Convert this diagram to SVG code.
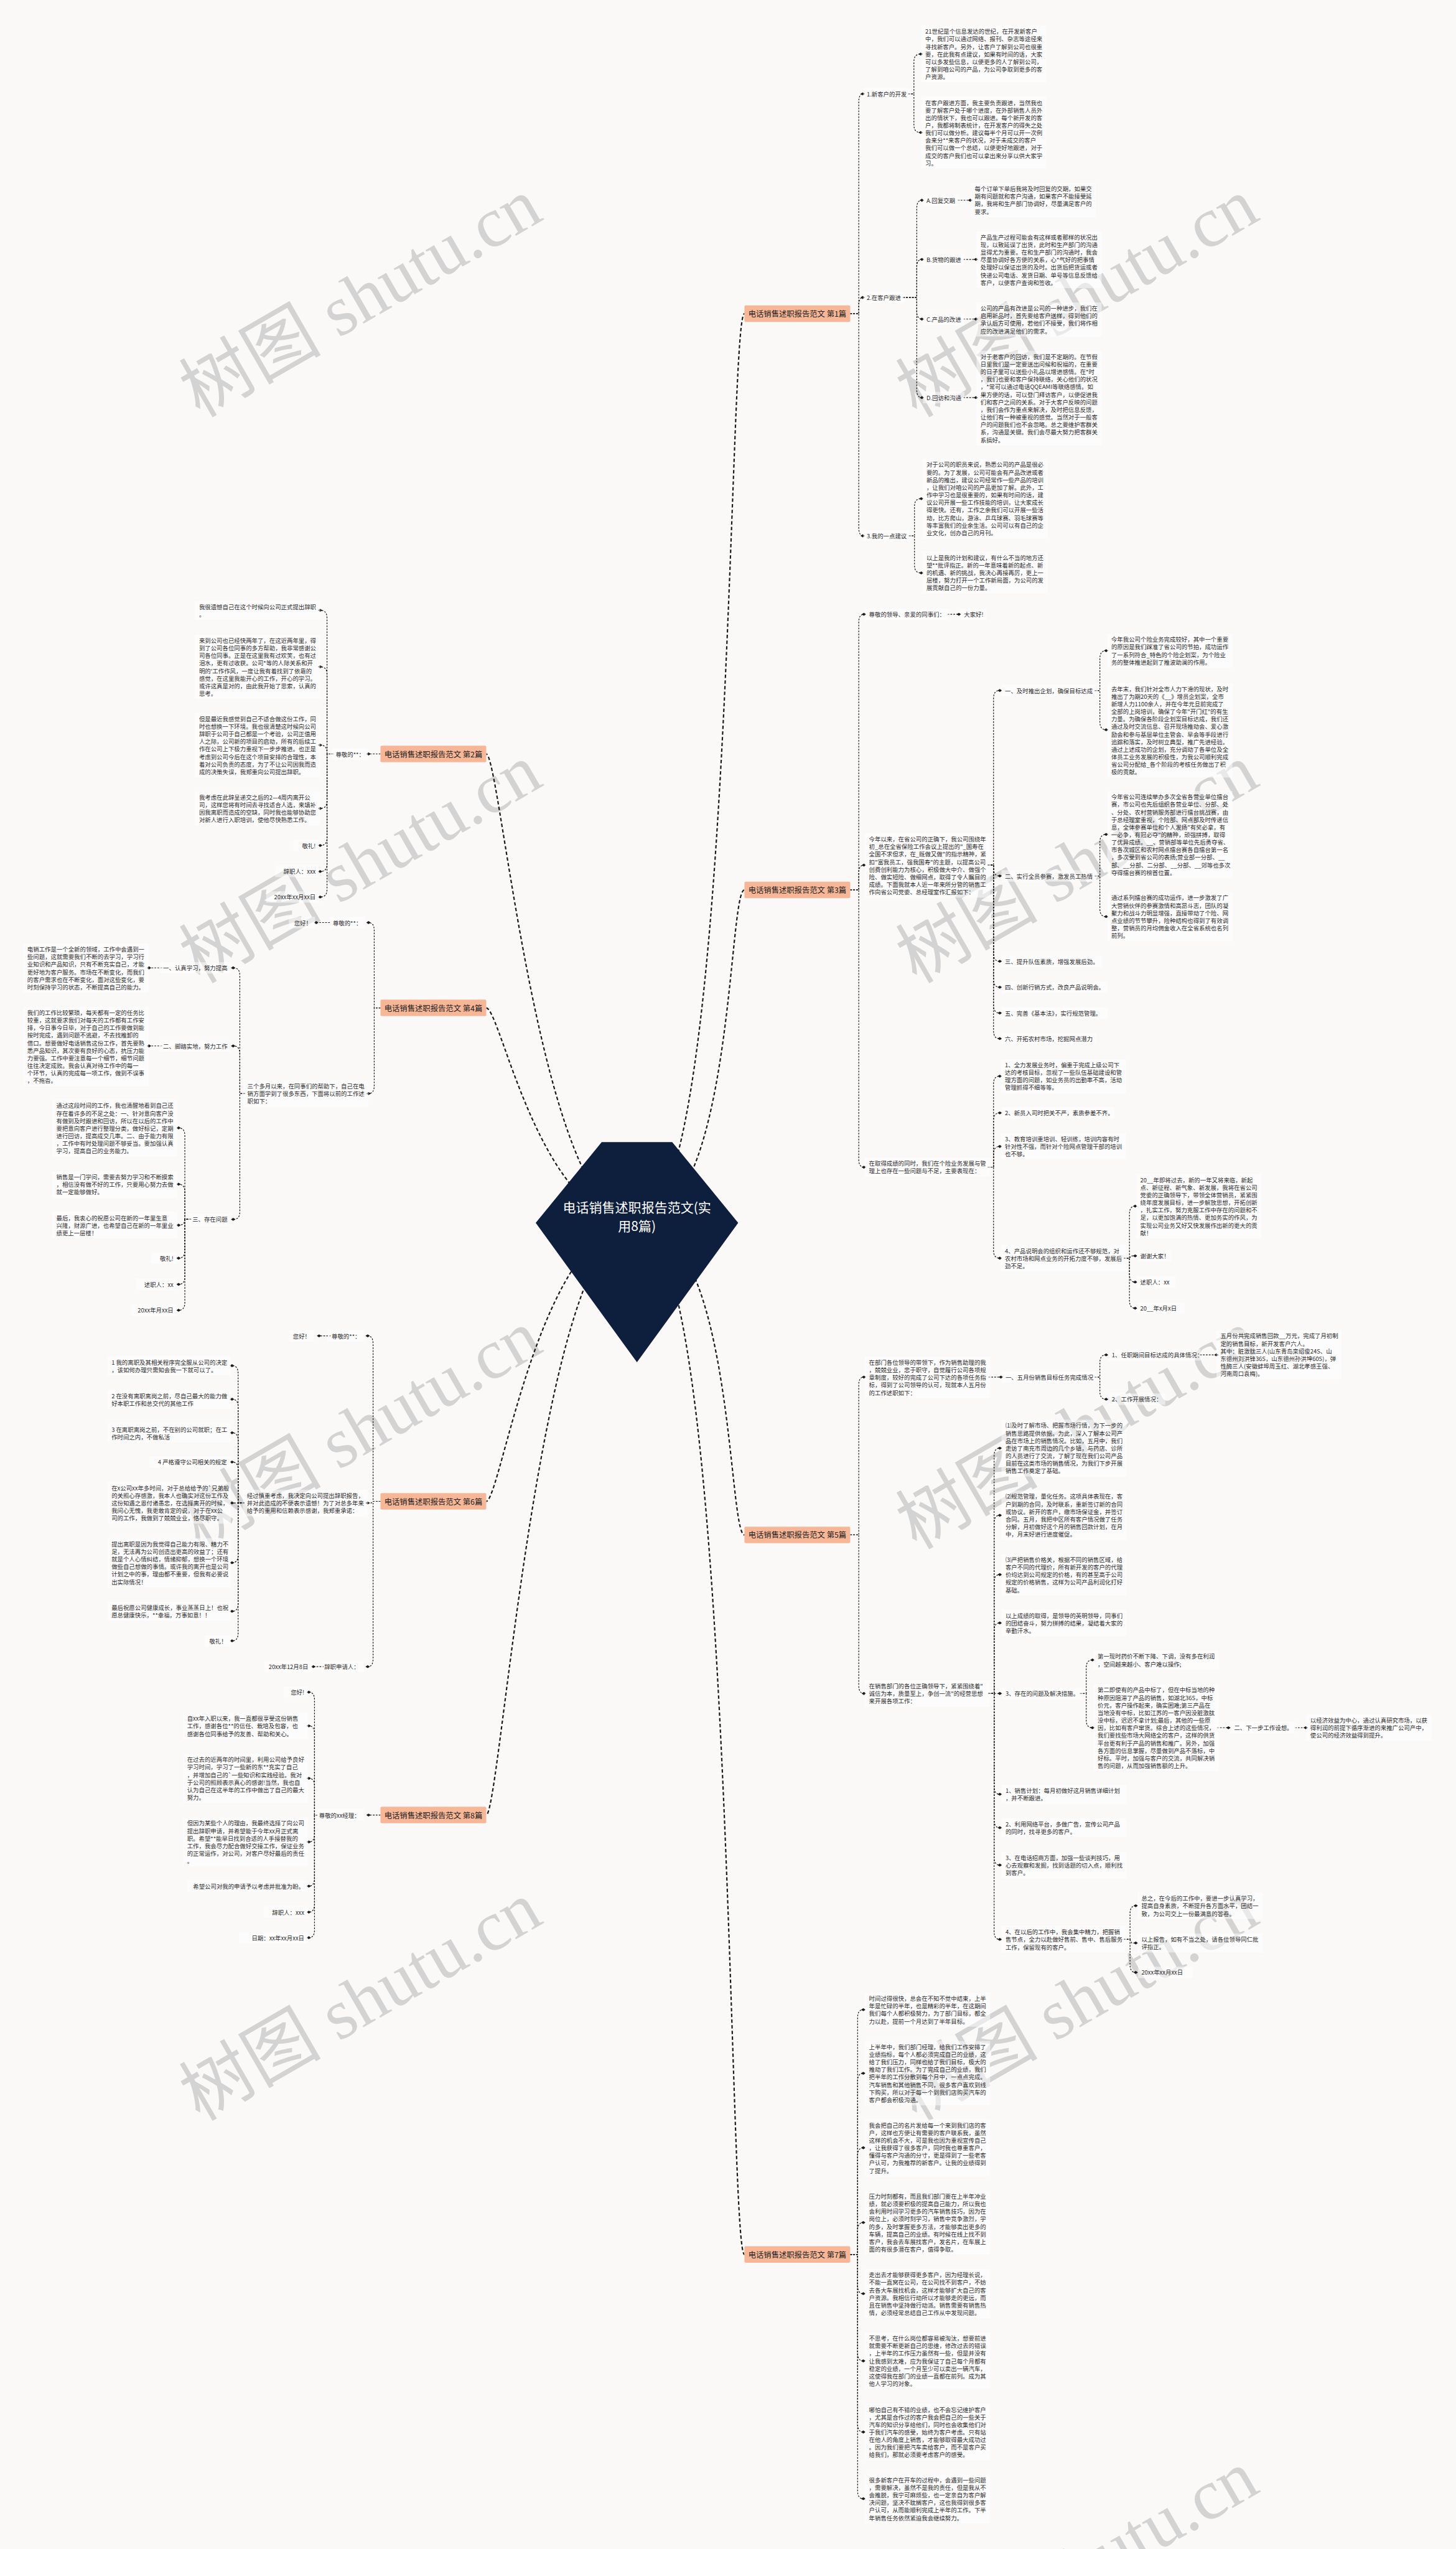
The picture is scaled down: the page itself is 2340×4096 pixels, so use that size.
<svg xmlns="http://www.w3.org/2000/svg" width="2340" height="4096" viewBox="0 0 2340 4096">
<defs>
<style>
.bg{fill:#fbf9f8}
.t{font-family:"Noto Sans CJK SC","Noto Sans",sans-serif;font-size:10.3px;fill:#2b2b2b;dominant-baseline:central}
.e{text-anchor:end}
.nb{fill:#ffffff;fill-opacity:.5}
.c{fill:none;stroke:#1b1b1b;stroke-width:1.3;stroke-dasharray:3 2.2;marker-end:url(#dm)}
.mc{fill:none;stroke:#1b1b1b;stroke-width:2.4;stroke-dasharray:6 4}
.bb{fill:#f7b796}
.bt{font-family:"Noto Sans CJK SC",sans-serif;font-size:13.5px;fill:#222;dominant-baseline:central;text-anchor:middle}
.root{fill:#0e1f3e}
.rt{font-family:"Noto Sans CJK SC",sans-serif;font-size:23px;fill:#fff;text-anchor:middle;dominant-baseline:central}
.wm{font-family:"Liberation Serif","Noto Sans CJK SC",serif;font-size:125px;fill:#d3d3d3;text-anchor:middle}
</style>
<marker id="dm" viewBox="-5 -4 10 8" markerWidth="9" markerHeight="7" orient="auto" markerUnits="userSpaceOnUse"><path d="M-4.5,0 L0,-3 L4.5,0 L0,3 Z" fill="#1b1b1b"/></marker>
</defs>
<rect class="bg" width="2340" height="4096"/>
<g transform="scale(0.914)">
<g id="watermarks">
<text class="wm" transform="translate(655 560) rotate(-30)">树图 shutu.cn</text>
<text class="wm" transform="translate(1915 560) rotate(-30)">树图 shutu.cn</text>
<text class="wm" transform="translate(655 1555) rotate(-30)">树图 shutu.cn</text>
<text class="wm" transform="translate(1915 1555) rotate(-30)">树图 shutu.cn</text>
<text class="wm" transform="translate(655 2550) rotate(-30)">树图 shutu.cn</text>
<text class="wm" transform="translate(1915 2550) rotate(-30)">树图 shutu.cn</text>
<text class="wm" transform="translate(655 3555) rotate(-30)">树图 shutu.cn</text>
<text class="wm" transform="translate(1915 3555) rotate(-30)">树图 shutu.cn</text>
<text class="wm" transform="translate(1915 4555) rotate(-30)">树图 shutu.cn</text>
</g>
<g id="connectors">
<path class="mc" d="M1120 2150 C1290 2150 1280 551.5 1309 551.5"/>
<path class="mc" d="M1120 2150 C1290 2150 1280 1564.5 1309 1564.5"/>
<path class="mc" d="M1120 2150 C1290 2150 1280 2698.5 1309 2698.5"/>
<path class="mc" d="M1120 2150 C1290 2150 1280 3963.5 1309 3963.5"/>
<path class="mc" d="M1120 2150 C950 2150 880 1325.5 855 1325.5"/>
<path class="mc" d="M1120 2150 C950 2150 880 1772 855 1772"/>
<path class="mc" d="M1120 2150 C950 2150 880 2639.5 855 2639.5"/>
<path class="mc" d="M1120 2150 C950 2150 880 3191 855 3191"/>
<path class="c" d="M1495 551.5 H1510 V179 C1510 170 1513 165 1517 165"/>
<path class="c" d="M1495 551.5 H1510 V537 C1510 528 1513 523 1517 523"/>
<path class="c" d="M1495 551.5 H1510 V928 C1510 937 1513 942 1517 942"/>
<path class="c" d="M1597 165 H1607 V109 C1607 100 1610 95 1619 95"/>
<path class="c" d="M1597 165 H1607 V219 C1607 228 1610 233 1619 233"/>
<path class="c" d="M1588 523 H1612 V366 C1612 357 1615 352 1621 352"/>
<path class="c" d="M1588 523 H1612 V470 C1612 461 1615 456 1621 456"/>
<path class="c" d="M1588 523 H1612 V547 C1612 556 1615 561 1621 561"/>
<path class="c" d="M1588 523 H1612 V685 C1612 694 1615 699 1621 699"/>
<path class="c" d="M1684 352 H1706"/>
<path class="c" d="M1694 456 H1716"/>
<path class="c" d="M1694 561 H1716"/>
<path class="c" d="M1694 699 H1716"/>
<path class="c" d="M1598 942 H1608 V890.7 C1608 881.7 1611 876.7 1620 876.7"/>
<path class="c" d="M1598 942 H1608 V993.3 C1608 1002.3 1611 1007.3 1620 1007.3"/>
<path class="c" d="M1495 1564.5 H1510 V1094 C1510 1085 1513 1080 1519 1080"/>
<path class="c" d="M1495 1564.5 H1510 V1535 C1510 1526 1513 1521 1519 1521"/>
<path class="c" d="M1495 1564.5 H1510 V2038 C1510 2047 1513 2052 1519 2052"/>
<path class="c" d="M1666 1080 H1686"/>
<path class="c" d="M1737 1521 H1747 V1228 C1747 1219 1750 1214 1758 1214"/>
<path class="c" d="M1737 1521 H1747 V1526 C1747 1535 1750 1540 1758 1540"/>
<path class="c" d="M1737 1521 H1747 V1676 C1747 1685 1750 1690 1758 1690"/>
<path class="c" d="M1737 1521 H1747 V1721.6 C1747 1730.6 1750 1735.6 1758 1735.6"/>
<path class="c" d="M1737 1521 H1747 V1767 C1747 1776 1750 1781 1758 1781"/>
<path class="c" d="M1737 1521 H1747 V1812 C1747 1821 1750 1826 1758 1826"/>
<path class="c" d="M1925 1214 H1934 V1158 C1934 1149 1937 1144 1945 1144"/>
<path class="c" d="M1925 1214 H1934 V1269 C1934 1278 1937 1283 1945 1283"/>
<path class="c" d="M1925 1540 H1934 V1481 C1934 1472 1937 1467 1945 1467"/>
<path class="c" d="M1925 1540 H1934 V1597.5 C1934 1606.5 1937 1611.5 1945 1611.5"/>
<path class="c" d="M1737 2052 H1747 V1906 C1747 1897 1750 1892 1758 1892"/>
<path class="c" d="M1737 2052 H1747 V1970.6 C1747 1961.6 1750 1956.6 1758 1956.6"/>
<path class="c" d="M1737 2052 H1747 V2029.6 C1747 2020.6 1750 2015.6 1758 2015.6"/>
<path class="c" d="M1737 2052 H1747 V2198 C1747 2207 1750 2212 1758 2212"/>
<path class="c" d="M1976 2212 H1986 V2134.5 C1986 2125.5 1989 2120.5 1996 2120.5"/>
<path class="c" d="M1976 2212 H1986 L1989 2208 H1996"/>
<path class="c" d="M1976 2212 H1986 V2240 C1986 2249 1989 2254 1996 2254"/>
<path class="c" d="M1976 2212 H1986 V2286 C1986 2295 1989 2300 1996 2300"/>
<path class="c" d="M1495 2698.5 H1510 V2435 C1510 2426 1513 2421 1519 2421"/>
<path class="c" d="M1495 2698.5 H1510 V2963.3 C1510 2972.3 1513 2977.3 1519 2977.3"/>
<path class="c" d="M1738 2421 H1760"/>
<path class="c" d="M1925 2421 H1934 V2396 C1934 2387 1937 2382 1945 2382"/>
<path class="c" d="M1925 2421 H1934 V2446 C1934 2455 1937 2460 1945 2460"/>
<path class="c" d="M2110 2382 H2139"/>
<path class="c" d="M1738 2977.3 H1748 V2560 C1748 2551 1751 2546 1758 2546"/>
<path class="c" d="M1738 2977.3 H1748 V2678 C1748 2669 1751 2664 1758 2664"/>
<path class="c" d="M1738 2977.3 H1748 V2782.3 C1748 2773.3 1751 2768.3 1758 2768.3"/>
<path class="c" d="M1738 2977.3 H1748 V2867.3 C1748 2858.3 1751 2853.3 1758 2853.3"/>
<path class="c" d="M1738 2977.3 H1758"/>
<path class="c" d="M1738 2977.3 H1748 V3140.5 C1748 3149.5 1751 3154.5 1758 3154.5"/>
<path class="c" d="M1738 2977.3 H1748 V3199.3 C1748 3208.3 1751 3213.3 1758 3213.3"/>
<path class="c" d="M1738 2977.3 H1748 V3265 C1748 3274 1751 3279 1758 3279"/>
<path class="c" d="M1738 2977.3 H1748 V3395.7 C1748 3404.7 1751 3409.7 1758 3409.7"/>
<path class="c" d="M1899 2977.3 H1910 V2932.4 C1910 2923.4 1913 2918.4 1921 2918.4"/>
<path class="c" d="M1899 2977.3 H1910 V3023.5 C1910 3032.5 1913 3037.5 1921 3037.5"/>
<path class="c" d="M2140 3037.5 H2160"/>
<path class="c" d="M2277 3037.5 H2296"/>
<path class="c" d="M1976 3409.7 H1987 V3364.5 C1987 3355.5 1990 3350.5 1997 3350.5"/>
<path class="c" d="M1976 3409.7 H1987 L1990 3416 H1997"/>
<path class="c" d="M1976 3409.7 H1987 V3453.7 C1987 3462.7 1990 3467.7 1997 3467.7"/>
<path class="c" d="M1495 3963.5 H1508 V3547.3 C1508 3538.3 1511 3533.3 1518 3533.3"/>
<path class="c" d="M1495 3963.5 H1508 V3659 C1508 3650 1511 3645 1518 3645"/>
<path class="c" d="M1495 3963.5 H1508 V3790 C1508 3781 1511 3776 1518 3776"/>
<path class="c" d="M1495 3963.5 H1508 V3921.5 C1508 3912.5 1511 3907.5 1518 3907.5"/>
<path class="c" d="M1495 3963.5 H1508 V4018.5 C1508 4027.5 1511 4032.5 1518 4032.5"/>
<path class="c" d="M1495 3963.5 H1508 V4136.7 C1508 4145.7 1511 4150.7 1518 4150.7"/>
<path class="c" d="M1495 3963.5 H1508 V4261.7 C1508 4270.7 1511 4275.7 1518 4275.7"/>
<path class="c" d="M1495 3963.5 H1508 V4379 C1508 4388 1511 4393 1518 4393"/>
<path class="c" d="M669 1325.5 H648"/>
<path class="c" d="M586 1325.5 H575 V1087 C575 1078 572 1073 563 1073"/>
<path class="c" d="M586 1325.5 H575 V1186.3 C575 1177.3 572 1172.3 563 1172.3"/>
<path class="c" d="M586 1325.5 H575 V1324 C575 1315 572 1310 563 1310"/>
<path class="c" d="M586 1325.5 H575 V1407.3 C575 1416.3 572 1421.3 563 1421.3"/>
<path class="c" d="M586 1325.5 H575 V1472.4 C575 1481.4 572 1486.4 563 1486.4"/>
<path class="c" d="M586 1325.5 H575 V1518.2 C575 1527.2 572 1532.2 563 1532.2"/>
<path class="c" d="M586 1325.5 H575 V1563 C575 1572 572 1577 563 1577"/>
<path class="c" d="M669 1772 H658 V1636 C658 1627 655 1622 648 1622"/>
<path class="c" d="M669 1772 H658 V1908.6 C658 1917.6 655 1922.6 648 1922.6"/>
<path class="c" d="M431 1922.6 H421.7 V1715.6 C421.7 1706.6 418.7 1701.6 410 1701.6"/>
<path class="c" d="M431 1922.6 H421.7 V1852.9 C421.7 1843.9 418.7 1838.9 410 1838.9"/>
<path class="c" d="M431 1922.6 H421.7 V2129.8 C421.7 2138.8 418.7 2143.8 410 2143.8"/>
<path class="c" d="M285 1701.6 H262"/>
<path class="c" d="M285 1838.9 H262"/>
<path class="c" d="M336 2143.8 H325 V1997 C325 1988 322 1983 314 1983"/>
<path class="c" d="M336 2143.8 H325 V2096 C325 2087 322 2082 314 2082"/>
<path class="c" d="M336 2143.8 H325 C325 2150 322 2154 314 2154"/>
<path class="c" d="M336 2143.8 H325 V2198 C325 2207 322 2212 314 2212"/>
<path class="c" d="M336 2143.8 H325 V2244 C325 2253 322 2258 314 2258"/>
<path class="c" d="M336 2143.8 H325 V2289.5 C325 2298.5 322 2303.5 314 2303.5"/>
<path class="c" d="M580 1622 H556"/>
<path class="c" d="M669 2639.5 H656 V2362.6 C656 2353.6 653 2348.6 646.5 2348.6"/>
<path class="c" d="M669 2639.5 H656 L653 2642.4 H646.5"/>
<path class="c" d="M669 2639.5 H656 V2916.2 C656 2925.2 653 2930.2 646.5 2930.2"/>
<path class="c" d="M582 2348.6 H561"/>
<path class="c" d="M570 2930.2 H551"/>
<path class="c" d="M430 2642.4 H418.7 V2415 C418.7 2406 415.7 2401 408 2401"/>
<path class="c" d="M430 2642.4 H418.7 V2474 C418.7 2465 415.7 2460 408 2460"/>
<path class="c" d="M430 2642.4 H418.7 V2533 C418.7 2524 415.7 2519 408 2519"/>
<path class="c" d="M430 2642.4 H418.7 V2584.4 C418.7 2575.4 415.7 2570.4 408 2570.4"/>
<path class="c" d="M430 2642.4 H408"/>
<path class="c" d="M430 2642.4 H418.7 V2733.5 C418.7 2742.5 415.7 2747.5 408 2747.5"/>
<path class="c" d="M430 2642.4 H418.7 V2818.8 C418.7 2827.8 415.7 2832.8 408 2832.8"/>
<path class="c" d="M430 2642.4 H418.7 V2870.8 C418.7 2879.8 415.7 2884.8 408 2884.8"/>
<path class="c" d="M669 3191 H648"/>
<path class="c" d="M558 3191 H553 V2989 C553 2980 550 2975 543 2975"/>
<path class="c" d="M558 3191 H553 V3048.3 C553 3039.3 550 3034.3 543 3034.3"/>
<path class="c" d="M558 3191 H553 V3140.5 C553 3131.5 550 3126.5 543 3126.5"/>
<path class="c" d="M558 3191 H553 V3224.3 C553 3233.3 550 3238.3 543 3238.3"/>
<path class="c" d="M558 3191 H553 V3302 C553 3311 550 3316 543 3316"/>
<path class="c" d="M558 3191 H553 V3347.7 C553 3356.7 550 3361.7 543 3361.7"/>
<path class="c" d="M558 3191 H553 V3392.7 C553 3401.7 550 3406.7 543 3406.7"/>
</g>
<g id="nodes">
<g id="root"><path class="root" d="M1058 2008 L1182 2008 L1298 2150 L1120 2395 L942 2150 Z"/><text class="rt" x="1120" y="2121">电话销售述职报告范文(实</text><text class="rt" x="1120" y="2154">用8篇)</text></g>
<g id="b1"><rect class="bb" x="1309" y="537" width="186" height="29" rx="2"/><text class="bt" x="1402" y="551.5">电话销售述职报告范文 第1篇</text></g>
<g id="b3"><rect class="bb" x="1309" y="1550" width="186" height="29" rx="2"/><text class="bt" x="1402" y="1564.5">电话销售述职报告范文 第3篇</text></g>
<g id="b5"><rect class="bb" x="1309" y="2684" width="186" height="29" rx="2"/><text class="bt" x="1402" y="2698.5">电话销售述职报告范文 第5篇</text></g>
<g id="b7"><rect class="bb" x="1309" y="3949" width="186" height="29" rx="2"/><text class="bt" x="1402" y="3963.5">电话销售述职报告范文 第7篇</text></g>
<g id="b2"><rect class="bb" x="669" y="1311" width="186" height="29" rx="2"/><text class="bt" x="762" y="1325.5">电话销售述职报告范文 第2篇</text></g>
<g id="b4"><rect class="bb" x="669" y="1757.5" width="186" height="29" rx="2"/><text class="bt" x="762" y="1772">电话销售述职报告范文 第4篇</text></g>
<g id="b6"><rect class="bb" x="669" y="2625" width="186" height="29" rx="2"/><text class="bt" x="762" y="2639.5">电话销售述职报告范文 第6篇</text></g>
<g id="b8"><rect class="bb" x="669" y="3176.5" width="186" height="29" rx="2"/><text class="bt" x="762" y="3191">电话销售述职报告范文 第8篇</text></g>
<g id="n1a"><rect class="nb" x="1518" y="155" width="82" height="20"/><text class="t" x="1524" y="165">1.新客户的开发</text></g>
<g id="n1a1"><rect class="nb" x="1620" y="45" width="220" height="99.8"/><text class="t" x="1627" y="55"><tspan x="1627" dy="0">21世纪是个信息发达的世纪，在开发新客户</tspan><tspan x="1627" dy="13.3">中，我们可以通过网络、报刊、杂志等途径来</tspan><tspan x="1627" dy="13.3">寻找新客户。另外，让客户了解到公司也很重</tspan><tspan x="1627" dy="13.3">要，在此我有点建议，如果有时间的话，大家</tspan><tspan x="1627" dy="13.3">可以多发些信息，以便更多的人了解到公司，</tspan><tspan x="1627" dy="13.3">了解到咱公司的产品，为公司争取到更多的客</tspan><tspan x="1627" dy="13.3">户资源。</tspan></text></g>
<g id="n1a2"><rect class="nb" x="1620" y="170" width="220" height="126.4"/><text class="t" x="1627" y="180"><tspan x="1627" dy="0">在客户跟进方面，我主要负责跟进，当然我也</tspan><tspan x="1627" dy="13.3">要了解客户处于哪个进度，在外部销售人员外</tspan><tspan x="1627" dy="13.3">出的情状下，我也可以跟进。每个新开发的客</tspan><tspan x="1627" dy="13.3">户，我都将制表统计，在开发客户的得失之处</tspan><tspan x="1627" dy="13.3">我们可以做分析。建议每半个月可以开一次例</tspan><tspan x="1627" dy="13.3">会来分**来客户的状况，对于未成交的客户</tspan><tspan x="1627" dy="13.3">我们可以做一个总结，以便更好地跟进，对于</tspan><tspan x="1627" dy="13.3">成交的客户我们也可以拿出来分享以供大家学</tspan><tspan x="1627" dy="13.3">习。</tspan></text></g>
<g id="n1b"><rect class="nb" x="1518" y="513" width="72" height="20"/><text class="t" x="1524" y="523">2.在客户跟进</text></g>
<g id="n1bA"><rect class="nb" x="1623" y="342" width="63" height="20"/><text class="t" x="1629" y="352">A.回复交期</text></g>
<g id="n1bA1"><rect class="nb" x="1707" y="321.7" width="220" height="59.9"/><text class="t" x="1714" y="331.7"><tspan x="1714" dy="0">每个订单下单后我将及时回复的交期，如果交</tspan><tspan x="1714" dy="13.3">期有问题就和客户沟通，如果客户不能接受延</tspan><tspan x="1714" dy="13.3">期，我将和生产部门协调好，尽量满足客户的</tspan><tspan x="1714" dy="13.3">要求。</tspan></text></g>
<g id="n1bB"><rect class="nb" x="1623" y="446" width="73" height="20"/><text class="t" x="1629" y="456">B.货物的跟进</text></g>
<g id="n1bB1"><rect class="nb" x="1717" y="406.7" width="220" height="99.8"/><text class="t" x="1724" y="416.7"><tspan x="1724" dy="0">产品生产过程可能会有这样或者那样的状况出</tspan><tspan x="1724" dy="13.3">现，以致延误了出货，此时和生产部门的沟通</tspan><tspan x="1724" dy="13.3">显得尤为重要。在和生产部门的沟通时，我会</tspan><tspan x="1724" dy="13.3">尽量协调好各方便的关系，心*气好的把事情</tspan><tspan x="1724" dy="13.3">处理好以保证出货的及时。出货后把货运或者</tspan><tspan x="1724" dy="13.3">快递公司电话、发货日期、单号等信息反馈给</tspan><tspan x="1724" dy="13.3">客户，以便客户查询和签收。</tspan></text></g>
<g id="n1bC"><rect class="nb" x="1623" y="551" width="73" height="20"/><text class="t" x="1629" y="561">C.产品的改进</text></g>
<g id="n1bC1"><rect class="nb" x="1717" y="531.7" width="220" height="59.9"/><text class="t" x="1724" y="541.7"><tspan x="1724" dy="0">公司的产品有改进是公司的一种进步，我们在</tspan><tspan x="1724" dy="13.3">启用新品时，首先要给客户送样，得到他们的</tspan><tspan x="1724" dy="13.3">承认后方可使用，若他们不接受，我们将作相</tspan><tspan x="1724" dy="13.3">应的改进满足他们的需求。</tspan></text></g>
<g id="n1bD"><rect class="nb" x="1623" y="689" width="73" height="20"/><text class="t" x="1629" y="699">D.回访和沟通</text></g>
<g id="n1bD1"><rect class="nb" x="1717" y="616.7" width="220" height="166.3"/><text class="t" x="1724" y="626.7"><tspan x="1724" dy="0">对于老客户的回访，我们是不定期的。在节假</tspan><tspan x="1724" dy="13.3">日里我们是一定要送出问候和祝福的，在重要</tspan><tspan x="1724" dy="13.3">的日子里可以送些小礼品以增进感情。在*时</tspan><tspan x="1724" dy="13.3">，我们也要和客户保持联络，关心他们的状况</tspan><tspan x="1724" dy="13.3">，*常可以通过电话QQEAMI等联络感情。如</tspan><tspan x="1724" dy="13.3">果方便的话，可以登门拜访客户，以便促进我</tspan><tspan x="1724" dy="13.3">们和客户之间的关系。对于大客户反映的问题</tspan><tspan x="1724" dy="13.3">，我们会作为重点来解决，及时把信息反馈，</tspan><tspan x="1724" dy="13.3">让他们有一种被重视的感觉。当然对于一般客</tspan><tspan x="1724" dy="13.3">户的问题我们也不会忽略。总之要维护客群关</tspan><tspan x="1724" dy="13.3">系，沟通是关键。我们会尽最大努力把客群关</tspan><tspan x="1724" dy="13.3">系搞好。</tspan></text></g>
<g id="n1c"><rect class="nb" x="1518" y="932" width="82" height="20"/><text class="t" x="1524" y="942">3.我的一点建议</text></g>
<g id="n1c1"><rect class="nb" x="1622" y="806.7" width="220" height="139.7"/><text class="t" x="1629" y="816.7"><tspan x="1629" dy="0">对于公司的职员来说，熟悉公司的产品是很必</tspan><tspan x="1629" dy="13.3">要的。为了发展，公司可能会有产品改进或者</tspan><tspan x="1629" dy="13.3">新品的推出，建议公司经常作一些产品的培训</tspan><tspan x="1629" dy="13.3">，让我们对咱公司的产品更加了解。此外，工</tspan><tspan x="1629" dy="13.3">作中学习也是很重要的，如果有时间的话，建</tspan><tspan x="1629" dy="13.3">议公司开展一些工作技能的培训，让大家成长</tspan><tspan x="1629" dy="13.3">得更快。还有，工作之余我们可以开展一些活</tspan><tspan x="1629" dy="13.3">动，比方爬山，游泳、乒乓球赛、羽毛球赛等</tspan><tspan x="1629" dy="13.3">等丰富我们的业余生活。公司可以有自己的企</tspan><tspan x="1629" dy="13.3">业文化，创办自己的月刊。</tspan></text></g>
<g id="n1c2"><rect class="nb" x="1622" y="970" width="220" height="73.2"/><text class="t" x="1629" y="980"><tspan x="1629" dy="0">以上是我的计划和建议，有什么不当的地方还</tspan><tspan x="1629" dy="13.3">望**批评指正。新的一年意味着新的起点、新</tspan><tspan x="1629" dy="13.3">的机遇、新的挑战，我决心再接再厉，更上一</tspan><tspan x="1629" dy="13.3">层楼，努力打开一个工作新局面，为公司的发</tspan><tspan x="1629" dy="13.3">展贡献自己的一份力量。</tspan></text></g>
<g id="n3a"><rect class="nb" x="1522" y="1070" width="146" height="20"/><text class="t" x="1528" y="1080">尊敬的领导、亲爱的同事们：</text></g>
<g id="n3b"><rect class="nb" x="1689" y="1070" width="46" height="20"/><text class="t" x="1695" y="1080">大家好!</text></g>
<g id="n3c"><rect class="nb" x="1521" y="1465" width="220" height="113.1"/><text class="t" x="1528" y="1475"><tspan x="1528" dy="0">今年以来，在省公司的正确下，我公司围绕年</tspan><tspan x="1528" dy="13.3">初_总在全省保险工作会议上提出的"_国寿在</tspan><tspan x="1528" dy="13.3">全国不求但求，在_既做又做"的指示精神，紧</tspan><tspan x="1528" dy="13.3">扣"富我员工，强我国寿"的主题，以提高公司</tspan><tspan x="1528" dy="13.3">创费创利能力为核心，积极做大中介、做强个</tspan><tspan x="1528" dy="13.3">险、做实短险、做细网点，取得了令人瞩目的</tspan><tspan x="1528" dy="13.3">成绩。下面我就本人近一年来所分管的销售工</tspan><tspan x="1528" dy="13.3">作向省公司党委、总经理室作汇报如下：</tspan></text></g>
<g id="n3d"><rect class="nb" x="1761" y="1204" width="167" height="20"/><text class="t" x="1767" y="1214">一、及时推出企划，确保目标达成</text></g>
<g id="n3e"><rect class="nb" x="1947" y="1114" width="220" height="59.9"/><text class="t" x="1954" y="1124"><tspan x="1954" dy="0">今年我公司个险业务完成较好，其中一个重要</tspan><tspan x="1954" dy="13.3">的原因是我们踩准了省公司的节拍，成功运作</tspan><tspan x="1954" dy="13.3">了一系列符合_特色的个险企划案，为个险业</tspan><tspan x="1954" dy="13.3">务的整体推进起到了推波助澜的作用。</tspan></text></g>
<g id="n3f"><rect class="nb" x="1947" y="1200.7" width="220" height="166.3"/><text class="t" x="1954" y="1210.7"><tspan x="1954" dy="0">去年末，我们针对全市人力下滑的现状，及时</tspan><tspan x="1954" dy="13.3">推出了为期20天的《__》增员企划案，全市</tspan><tspan x="1954" dy="13.3">新增人力1100余人，并在今年元旦前完成了</tspan><tspan x="1954" dy="13.3">全部的上岗培训，确保了今年"开门红"的有生</tspan><tspan x="1954" dy="13.3">力量。为确保各阶段企划案目标达成，我们还</tspan><tspan x="1954" dy="13.3">通过及时交流信息、召开现场推动会、爱心激</tspan><tspan x="1954" dy="13.3">励会和参与基层单位主管会、早会等手段进行</tspan><tspan x="1954" dy="13.3">追踪和落实，及时树立典型，推广先进经验。</tspan><tspan x="1954" dy="13.3">通过上述成功的企划，充分调动了各单位及全</tspan><tspan x="1954" dy="13.3">体员工业务发展的积极性，为我公司顺利完成</tspan><tspan x="1954" dy="13.3">省公司分配给_各个阶段的考核任务做出了积</tspan><tspan x="1954" dy="13.3">极的贡献。</tspan></text></g>
<g id="n3g"><rect class="nb" x="1761" y="1530" width="167" height="20"/><text class="t" x="1767" y="1540">二、实行全员参赛，激发员工热情</text></g>
<g id="n3h"><rect class="nb" x="1947" y="1390.7" width="220" height="153"/><text class="t" x="1954" y="1400.7"><tspan x="1954" dy="0">今年省公司连续举办多次全省各营业单位擂台</tspan><tspan x="1954" dy="13.3">赛，市公司也先后组织各营业单位、分部、处</tspan><tspan x="1954" dy="13.3">、分处、农村营销服务部进行擂台挑战赛，由</tspan><tspan x="1954" dy="13.3">于总经理室重视，个险部、网点部及时传递信</tspan><tspan x="1954" dy="13.3">息，全体参赛单位和个人发扬"有奖必拿，有</tspan><tspan x="1954" dy="13.3">一必争，有冠必夺"的精神，顽强拼搏，取得</tspan><tspan x="1954" dy="13.3">了优异成绩。__、营销部等单位先后勇夺省、</tspan><tspan x="1954" dy="13.3">市各次城区和农村网点擂台赛各自擂台第一名</tspan><tspan x="1954" dy="13.3">，多次受到省公司的表扬;营业部一分部、__</tspan><tspan x="1954" dy="13.3">部、__分部、二分部、__分部、__郊等也多次</tspan><tspan x="1954" dy="13.3">夺得擂台赛的榜首位置。</tspan></text></g>
<g id="n3i"><rect class="nb" x="1947" y="1568.2" width="220" height="86.5"/><text class="t" x="1954" y="1578.2"><tspan x="1954" dy="0">通过系列擂台赛的成功运作，进一步激发了广</tspan><tspan x="1954" dy="13.3">大营销伙伴的参赛激情和高昂斗志，团队的凝</tspan><tspan x="1954" dy="13.3">聚力和战斗力明显增强，直接带动了个险、网</tspan><tspan x="1954" dy="13.3">点业绩的节节攀升，险种结构也得到了有效调</tspan><tspan x="1954" dy="13.3">整，营销员的月均佣金收入在全省系统也名列</tspan><tspan x="1954" dy="13.3">前列。</tspan></text></g>
<g id="n3j"><rect class="nb" x="1761" y="1680" width="177" height="20"/><text class="t" x="1767" y="1690">三、提升队伍素质，增强发展后劲。</text></g>
<g id="n3k"><rect class="nb" x="1761" y="1725.6" width="187" height="20"/><text class="t" x="1767" y="1735.6">四、创新行销方式，改良产品说明会。</text></g>
<g id="n3l"><rect class="nb" x="1761" y="1771" width="187" height="20"/><text class="t" x="1767" y="1781">五、完善《基本法》，实行规范管理。</text></g>
<g id="n3m"><rect class="nb" x="1761" y="1816" width="167" height="20"/><text class="t" x="1767" y="1826">六、开拓农村市场，挖掘网点潜力</text></g>
<g id="n3n"><rect class="nb" x="1521" y="2035" width="220" height="33.3"/><text class="t" x="1528" y="2045"><tspan x="1528" dy="0">在取得成绩的同时，我们在个险业务发展与管</tspan><tspan x="1528" dy="13.3">理上也存在一些问题与不足，主要表现在：</tspan></text></g>
<g id="n3o"><rect class="nb" x="1760" y="1862" width="220" height="59.9"/><text class="t" x="1767" y="1872"><tspan x="1767" dy="0">1、全力发展业务时，偏重于完成上级公司下</tspan><tspan x="1767" dy="13.3">达的考核目标，忽视了一些队伍基础建设和管</tspan><tspan x="1767" dy="13.3">理方面的问题，如业务员的出勤率不高，活动</tspan><tspan x="1767" dy="13.3">管理抓得不细等等。</tspan></text></g>
<g id="n3p"><rect class="nb" x="1761" y="1946.6" width="198" height="20"/><text class="t" x="1767" y="1956.6">2、新员入司时把关不严，素质参差不齐。</text></g>
<g id="n3q"><rect class="nb" x="1760" y="1992" width="220" height="46.6"/><text class="t" x="1767" y="2002"><tspan x="1767" dy="0">3、教育培训重培训、轻训练，培训内容有时</tspan><tspan x="1767" dy="13.3">针对性不强，而针对个险网点管理干部的培训</tspan><tspan x="1767" dy="13.3">也不够。</tspan></text></g>
<g id="n3r"><rect class="nb" x="1760" y="2188.7" width="220" height="46.6"/><text class="t" x="1767" y="2198.7"><tspan x="1767" dy="0">4、产品说明会的组织和运作还不够规范，对</tspan><tspan x="1767" dy="13.3">农村市场和网点业务的开拓力度不够，发展后</tspan><tspan x="1767" dy="13.3">劲不足。</tspan></text></g>
<g id="n3s"><rect class="nb" x="1998" y="2064" width="220" height="113.1"/><text class="t" x="2005" y="2074"><tspan x="2005" dy="0">20__年即将过去，新的一年又将来临，新起</tspan><tspan x="2005" dy="13.3">点、新征程、新气象、新发展，我将在省公司</tspan><tspan x="2005" dy="13.3">党委的正确领导下，带领全体营销员，紧紧围</tspan><tspan x="2005" dy="13.3">绕年度发展目标，进一步解放思想，开拓创新</tspan><tspan x="2005" dy="13.3">，扎实工作，努力克服工作中存在的问题和不</tspan><tspan x="2005" dy="13.3">足，以更加饱满的热情、更加务实的作风，为</tspan><tspan x="2005" dy="13.3">实现公司业务又好又快发展作出新的更大的贡</tspan><tspan x="2005" dy="13.3">献！</tspan></text></g>
<g id="n3t"><rect class="nb" x="1999" y="2198" width="60" height="20"/><text class="t" x="2005" y="2208">谢谢大家！</text></g>
<g id="n3u"><rect class="nb" x="1999" y="2244" width="68" height="20"/><text class="t" x="2005" y="2254">述职人：xx</text></g>
<g id="n3v"><rect class="nb" x="1999" y="2290" width="84" height="20"/><text class="t" x="2005" y="2300">20__年x月x日</text></g>
<g id="n5a"><rect class="nb" x="1521" y="2385" width="220" height="73.2"/><text class="t" x="1528" y="2395"><tspan x="1528" dy="0">在部门各位领导的带领下，作为销售助理的我</tspan><tspan x="1528" dy="13.3">，兢兢业业，忠于职守，自觉履行公司各项规</tspan><tspan x="1528" dy="13.3">章制度，较好的完成了公司下达的各项任务指</tspan><tspan x="1528" dy="13.3">标，得到了公司领导的认可，现就本人五月份</tspan><tspan x="1528" dy="13.3">的工作述职如下：</tspan></text></g>
<g id="n5b"><rect class="nb" x="1762" y="2411" width="167" height="20"/><text class="t" x="1768" y="2421">一、五月份销售目标任务完成情况</text></g>
<g id="n5c"><rect class="nb" x="1949" y="2372" width="162" height="20"/><text class="t" x="1955" y="2382">1、任职期间目标达成的具体情况：</text></g>
<g id="n5d"><rect class="nb" x="2139" y="2338.3" width="220" height="86.5"/><text class="t" x="2146" y="2348.3"><tspan x="2146" dy="0">五月份共完成销售回款__万元，完成了月初制</tspan><tspan x="2146" dy="13.3">定的销售目标，新开发客户六人。</tspan><tspan x="2146" dy="13.3">其中：脏激肽三人(山东青岛栾绍俊24S、山</tspan><tspan x="2146" dy="13.3">东德州刘洪锋36S，山东德州孙洪坤60S)，弹</tspan><tspan x="2146" dy="13.3">性酶三人(安徽蚌埠周玉红、湖北孝感王强、</tspan><tspan x="2146" dy="13.3">河南周口袁梅)。</tspan></text></g>
<g id="n5e"><rect class="nb" x="1949" y="2450" width="100" height="20"/><text class="t" x="1955" y="2460">2、工作开展情况：</text></g>
<g id="n5f"><rect class="nb" x="1521" y="2954" width="220" height="46.6"/><text class="t" x="1528" y="2964"><tspan x="1528" dy="0">在销售部门的各位正确领导下，紧紧围绕着"</tspan><tspan x="1528" dy="13.3">诚信为本，质量至上，争创一流"的经营思想</tspan><tspan x="1528" dy="13.3">来开展各项工作：</tspan></text></g>
<g id="n5g"><rect class="nb" x="1761" y="2496" width="220" height="99.8"/><text class="t" x="1768" y="2506"><tspan x="1768" dy="0">⑴及时了解市场、把握市场行情，为下一步的</tspan><tspan x="1768" dy="13.3">销售思路提供依据。为此，深入了解本公司产</tspan><tspan x="1768" dy="13.3">品在市场上的销售情况。比如，五月中，我们</tspan><tspan x="1768" dy="13.3">走访了南充市周边的几个乡镇，与药店、诊所</tspan><tspan x="1768" dy="13.3">的人员进行了交流，了解了现在我们公司产品</tspan><tspan x="1768" dy="13.3">目前在这类市场的销售情况，为我们下步开展</tspan><tspan x="1768" dy="13.3">销售工作奠定了基础。</tspan></text></g>
<g id="n5h"><rect class="nb" x="1761" y="2620.7" width="220" height="86.5"/><text class="t" x="1768" y="2630.7"><tspan x="1768" dy="0">⑵规范管理，量化任务。这项具体表现在，客</tspan><tspan x="1768" dy="13.3">户到期的合同，及时联系，重新签订新的合同</tspan><tspan x="1768" dy="13.3">或协议。新开的客户，缴市场保证金，并签订</tspan><tspan x="1768" dy="13.3">合同。五月，我把中区所有客户情况做了任务</tspan><tspan x="1768" dy="13.3">分解，月初做好这个月的销售回款计划，在月</tspan><tspan x="1768" dy="13.3">中，月末好进行进度催促。</tspan></text></g>
<g id="n5i"><rect class="nb" x="1761" y="2731.7" width="220" height="73.2"/><text class="t" x="1768" y="2741.7"><tspan x="1768" dy="0">⑶严把销售价格关，根据不同的销售区域，给</tspan><tspan x="1768" dy="13.3">客户不同的代理价，所有新开发的客户的代理</tspan><tspan x="1768" dy="13.3">价均达到公司规定的价格，有的甚至高于公司</tspan><tspan x="1768" dy="13.3">规定的价格销售，这样为公司产品利润化打好</tspan><tspan x="1768" dy="13.3">基础。</tspan></text></g>
<g id="n5j"><rect class="nb" x="1761" y="2830" width="220" height="46.6"/><text class="t" x="1768" y="2840"><tspan x="1768" dy="0">以上成绩的取得，是领导的英明领导，同事们</tspan><tspan x="1768" dy="13.3">的团结奋斗，努力拼搏的结果，凝结着大家的</tspan><tspan x="1768" dy="13.3">辛勤汗水。</tspan></text></g>
<g id="n5k"><rect class="nb" x="1762" y="2967.3" width="140" height="20"/><text class="t" x="1768" y="2977.3">3、存在的问题及解决措施。</text></g>
<g id="n5l"><rect class="nb" x="1923" y="2901.8" width="220" height="33.3"/><text class="t" x="1930" y="2911.8"><tspan x="1930" dy="0">第一现时药价不断下降、下调，没有多在利润</tspan><tspan x="1930" dy="13.3">，空间越来越小、客户难以操作;</tspan></text></g>
<g id="n5m"><rect class="nb" x="1923" y="2961" width="220" height="153"/><text class="t" x="1930" y="2971"><tspan x="1930" dy="0">第二即使有的产品中标了，但在中标当地的种</tspan><tspan x="1930" dy="13.3">种原因阻滞了产品的销售，如湖北36S，中标</tspan><tspan x="1930" dy="13.3">价元，客户操作起来，确实困难;第三产品在</tspan><tspan x="1930" dy="13.3">当地没有中标，比如江苏的一客户因没脏激肽</tspan><tspan x="1930" dy="13.3">没中标，迟迟不拿计划;最后，其他的一些原</tspan><tspan x="1930" dy="13.3">因，比如有客户窜货。综合上述的这些情况，</tspan><tspan x="1930" dy="13.3">我们要找些市场大网络全的客户，这样的供货</tspan><tspan x="1930" dy="13.3">平台更有利于产品的销售和推广。另外，加强</tspan><tspan x="1930" dy="13.3">各方面的信息掌握，尽量做到产品不落标，中</tspan><tspan x="1930" dy="13.3">好标。平时，加强与客户的交流，共同解决销</tspan><tspan x="1930" dy="13.3">售的问题，从而加强销售额的上升。</tspan></text></g>
<g id="n5n"><rect class="nb" x="2164" y="3027.5" width="115" height="20"/><text class="t" x="2170" y="3037.5">二、下一步工作设想。</text></g>
<g id="n5o"><rect class="nb" x="2297" y="3014" width="220" height="46.6"/><text class="t" x="2304" y="3024"><tspan x="2304" dy="0">以经济效益为中心，通过认真研究市场，以获</tspan><tspan x="2304" dy="13.3">得利润的前提下循序渐进的来推广公司产中，</tspan><tspan x="2304" dy="13.3">使公司的经济效益得到提升。</tspan></text></g>
<g id="n5p"><rect class="nb" x="1761" y="3137.8" width="220" height="33.3"/><text class="t" x="1768" y="3147.8"><tspan x="1768" dy="0">1、销售计划：每月初做好这月销售详细计划</tspan><tspan x="1768" dy="13.3">，并不断跟进。</tspan></text></g>
<g id="n5q"><rect class="nb" x="1761" y="3196.6" width="220" height="33.3"/><text class="t" x="1768" y="3206.6"><tspan x="1768" dy="0">2、利用网络平台，多做广告，宣传公司产品</tspan><tspan x="1768" dy="13.3">的同时，找寻更多的客户。</tspan></text></g>
<g id="n5r"><rect class="nb" x="1761" y="3255.8" width="220" height="46.6"/><text class="t" x="1768" y="3265.8"><tspan x="1768" dy="0">3、在电话招商方面，加强一些谈判技巧，用</tspan><tspan x="1768" dy="13.3">心去观察和发掘，找到话题的切入点，顺利找</tspan><tspan x="1768" dy="13.3">到客户。</tspan></text></g>
<g id="n5s"><rect class="nb" x="1761" y="3386.4" width="220" height="46.6"/><text class="t" x="1768" y="3396.4"><tspan x="1768" dy="0">4、在以后的工作中，我会集中精力，把握销</tspan><tspan x="1768" dy="13.3">售节点，全力以赴做好售前、售中、售后服务</tspan><tspan x="1768" dy="13.3">工作，保留现有的客户。</tspan></text></g>
<g id="n5t"><rect class="nb" x="2000" y="3327.2" width="220" height="46.6"/><text class="t" x="2007" y="3337.2"><tspan x="2007" dy="0">总之，在今后的工作中，要进一步认真学习，</tspan><tspan x="2007" dy="13.3">提高自身素质，不断提升各方面水平，团结一</tspan><tspan x="2007" dy="13.3">致，为公司交上一份最满意的答卷。</tspan></text></g>
<g id="n5u"><rect class="nb" x="2000" y="3399.3" width="220" height="33.3"/><text class="t" x="2007" y="3409.3"><tspan x="2007" dy="0">以上报告，如有不当之处，请各位领导同仁批</tspan><tspan x="2007" dy="13.3">评指正。</tspan></text></g>
<g id="n5v"><rect class="nb" x="2001" y="3457.7" width="96" height="20"/><text class="t" x="2007" y="3467.7">20xx年xx月xx日</text></g>
<g id="n7a"><rect class="nb" x="1521" y="3503.3" width="220" height="59.9"/><text class="t" x="1528" y="3513.3"><tspan x="1528" dy="0">时间过得很快，总会在不知不觉中结束，上半</tspan><tspan x="1528" dy="13.3">年是忙碌的半年，也是精彩的半年，在这期间</tspan><tspan x="1528" dy="13.3">我们每个人都积极努力，为了部门目标，都全</tspan><tspan x="1528" dy="13.3">力以赴，提前一个月达到了半年目标。</tspan></text></g>
<g id="n7b"><rect class="nb" x="1521" y="3588.3" width="220" height="113.1"/><text class="t" x="1528" y="3598.3"><tspan x="1528" dy="0">上半年中，我们部门经理，给我们工作安排了</tspan><tspan x="1528" dy="13.3">业绩指标，每个人都必须完成自己的业绩，这</tspan><tspan x="1528" dy="13.3">给了我们压力，同样也给了我们目标，极大的</tspan><tspan x="1528" dy="13.3">推动了我们工作。为了完成自己的业绩，我们</tspan><tspan x="1528" dy="13.3">把半年的工作分散到每个月中，一点点完成。</tspan><tspan x="1528" dy="13.3">汽车销售和其他销售不同，很多客户喜欢到线</tspan><tspan x="1528" dy="13.3">下购买，所以对于每一个到我们店购买汽车的</tspan><tspan x="1528" dy="13.3">客户都会积极沟通。</tspan></text></g>
<g id="n7c"><rect class="nb" x="1521" y="3726" width="220" height="99.8"/><text class="t" x="1528" y="3736"><tspan x="1528" dy="0">我会把自己的名片发给每一个来到我们店的客</tspan><tspan x="1528" dy="13.3">户，这样也方便让有需要的客户联系我，虽然</tspan><tspan x="1528" dy="13.3">这样的机会不大，可是我也因为重视宣传自己</tspan><tspan x="1528" dy="13.3">，让我获得了很多客户，同时我也尊重客户，</tspan><tspan x="1528" dy="13.3">懂得与客户沟通的分寸，更是得到了一些老客</tspan><tspan x="1528" dy="13.3">户认可，为我推荐的新客户。让我的业绩得到</tspan><tspan x="1528" dy="13.3">了提升。</tspan></text></g>
<g id="n7d"><rect class="nb" x="1521" y="3851" width="220" height="113.1"/><text class="t" x="1528" y="3861"><tspan x="1528" dy="0">压力时刻都有，而且我们部门要在上半年冲业</tspan><tspan x="1528" dy="13.3">绩，就必须要积极的提高自己能力，所以我也</tspan><tspan x="1528" dy="13.3">会利用时间学习更多的汽车销售技巧，因为在</tspan><tspan x="1528" dy="13.3">岗位上，必须时刻学习，销售中竞争激烈，学</tspan><tspan x="1528" dy="13.3">的多，及时掌握更多方法，才能够卖出更多的</tspan><tspan x="1528" dy="13.3">车辆，提高自己的业绩。有时候在线上找不到</tspan><tspan x="1528" dy="13.3">客户，我会去车展找客户，发名片，在车展上</tspan><tspan x="1528" dy="13.3">面的有很多潜在客户，值得争取。</tspan></text></g>
<g id="n7e"><rect class="nb" x="1521" y="3989.2" width="220" height="86.5"/><text class="t" x="1528" y="3999.2"><tspan x="1528" dy="0">走出去才能够获得更多客户，因为经理长说，</tspan><tspan x="1528" dy="13.3">不能一直窝在公司，在公司找不到客户，不妨</tspan><tspan x="1528" dy="13.3">去各大车展找机会，这样才能够扩大自己的客</tspan><tspan x="1528" dy="13.3">户资源。我相信行动所以才能够走的更远，而</tspan><tspan x="1528" dy="13.3">且在销售中坚持做行动派。销售需要有销售热</tspan><tspan x="1528" dy="13.3">情，必须经常总结自己工作从中发现问题。</tspan></text></g>
<g id="n7f"><rect class="nb" x="1521" y="4100.7" width="220" height="99.8"/><text class="t" x="1528" y="4110.7"><tspan x="1528" dy="0">不思考，在什么岗位都容易被淘汰，想要前进</tspan><tspan x="1528" dy="13.3">就需要不断更新自己的思维，修改过去的错误</tspan><tspan x="1528" dy="13.3">，上半年的工作压力虽然有一些，但是并没有</tspan><tspan x="1528" dy="13.3">让我感到太难，应为我保证了自己每个月都有</tspan><tspan x="1528" dy="13.3">稳定的业绩，一个月至少可以卖出一辆汽车，</tspan><tspan x="1528" dy="13.3">这使得我在部门的业绩一直都在前列。成为其</tspan><tspan x="1528" dy="13.3">他人学习的对象。</tspan></text></g>
<g id="n7g"><rect class="nb" x="1521" y="4225.8" width="220" height="99.8"/><text class="t" x="1528" y="4235.8"><tspan x="1528" dy="0">哪怕自己有不错的业绩，也不会忘记维护客户</tspan><tspan x="1528" dy="13.3">，尤其是合作过的客户我会把自己的一些关于</tspan><tspan x="1528" dy="13.3">汽车的知识分享给他们，同时也会收集他们对</tspan><tspan x="1528" dy="13.3">于我们汽车的感受，始终为客户考虑。只有站</tspan><tspan x="1528" dy="13.3">在他人的角度上销售，才能够取得最大成功过</tspan><tspan x="1528" dy="13.3">。因为我们要把汽车卖给客户，而不是客户买</tspan><tspan x="1528" dy="13.3">给我们，那就必须要考虑客户的感受。</tspan></text></g>
<g id="n7h"><rect class="nb" x="1521" y="4349.8" width="220" height="86.5"/><text class="t" x="1528" y="4359.8"><tspan x="1528" dy="0">很多新客户在开车的过程中，会遇到一些问题</tspan><tspan x="1528" dy="13.3">，需要解决，虽然不是我的责任，但是我从不</tspan><tspan x="1528" dy="13.3">会推脱，我宁可麻烦些，也一定亲自为客户解</tspan><tspan x="1528" dy="13.3">决问题，坚决不耽搁客户，这也我得到很多客</tspan><tspan x="1528" dy="13.3">户认可，从而能顺利完成上半年的工作。下半</tspan><tspan x="1528" dy="13.3">年销售任务依然紧迫我会继续努力。</tspan></text></g>
<g id="n2a"><rect class="nb" x="583" y="1315.5" width="64" height="20"/><text class="t e" x="641" y="1325.5">尊敬的**：</text></g>
<g id="n2b"><rect class="nb" x="343" y="1056.5" width="220" height="33.3"/><text class="t" x="350" y="1066.5"><tspan x="350" dy="0">我很遗憾自己在这个时候向公司正式提出辞职</tspan><tspan x="350" dy="13.3">。</tspan></text></g>
<g id="n2c"><rect class="nb" x="343" y="1115.8" width="220" height="113.1"/><text class="t" x="350" y="1125.8"><tspan x="350" dy="0">来到公司也已经快两年了，在这近两年里，得</tspan><tspan x="350" dy="13.3">到了公司各位同事的多方帮助，我非常感谢公</tspan><tspan x="350" dy="13.3">司各位同事。正是在这里我有过欢笑，也有过</tspan><tspan x="350" dy="13.3">泪水，更有过收获。公司*等的人际关系和开</tspan><tspan x="350" dy="13.3">明的'工作作风，一度让我有着找到了依靠的</tspan><tspan x="350" dy="13.3">感觉，在这里我能开心的工作，开心的学习。</tspan><tspan x="350" dy="13.3">或许这真是对的，由此我开始了思索，认真的</tspan><tspan x="350" dy="13.3">思考。</tspan></text></g>
<g id="n2d"><rect class="nb" x="343" y="1253.5" width="220" height="113.1"/><text class="t" x="350" y="1263.5"><tspan x="350" dy="0">但是最近我感觉到自己不适合做这份工作，同</tspan><tspan x="350" dy="13.3">时也想换一下环境。我也很清楚这时候向公司</tspan><tspan x="350" dy="13.3">辞职于公司于自己都是一个考验，公司正值用</tspan><tspan x="350" dy="13.3">人之际，公司新的项目的启动，所有的后续工</tspan><tspan x="350" dy="13.3">作在公司上下极力重视下一步步推进。也正是</tspan><tspan x="350" dy="13.3">考虑到公司今后在这个项目安排的合理性，本</tspan><tspan x="350" dy="13.3">着对公司负责的态度，为了不让公司因我而造</tspan><tspan x="350" dy="13.3">成的决策失误，我郑重向公司提出辞职。</tspan></text></g>
<g id="n2e"><rect class="nb" x="343" y="1391.3" width="220" height="59.9"/><text class="t" x="350" y="1401.3"><tspan x="350" dy="0">我考虑在此辞呈递交之后的2—4周内离开公</tspan><tspan x="350" dy="13.3">司，这样您将有时间去寻找适合人选，来填补</tspan><tspan x="350" dy="13.3">因我离职而造成的空缺，同时我也能够协助您</tspan><tspan x="350" dy="13.3">对新人进行入职培训，使他尽快熟悉工作。</tspan></text></g>
<g id="n2f"><rect class="nb" x="516" y="1476.4" width="45" height="20"/><text class="t e" x="555" y="1486.4">敬礼!</text></g>
<g id="n2g"><rect class="nb" x="484" y="1522.2" width="77" height="20"/><text class="t e" x="555" y="1532.2">辞职人：xxx</text></g>
<g id="n2h"><rect class="nb" x="468" y="1567" width="93" height="20"/><text class="t e" x="555" y="1577">20xx年xx月xx日</text></g>
<g id="n4z"><rect class="nb" x="580" y="1612" width="62" height="20"/><text class="t e" x="636" y="1622">尊敬的**：</text></g>
<g id="n4y"><rect class="nb" x="508" y="1612" width="46" height="20"/><text class="t e" x="548" y="1622">您好！</text></g>
<g id="n4b"><rect class="nb" x="428" y="1899.3" width="220" height="46.6"/><text class="t" x="435" y="1909.3"><tspan x="435" dy="0">三个多月以来，在同事们的帮助下，自己在电</tspan><tspan x="435" dy="13.3">销方面学到了很多东西，下面将以前的工作述</tspan><tspan x="435" dy="13.3">职如下：</tspan></text></g>
<g id="n4c"><rect class="nb" x="281" y="1691.6" width="125" height="20"/><text class="t e" x="400" y="1701.6">一、认真学习，努力提高</text></g>
<g id="n4d"><rect class="nb" x="41" y="1658.6" width="220" height="86.5"/><text class="t" x="48" y="1668.6"><tspan x="48" dy="0">电销工作是一个全新的领域，工作中会遇到一</tspan><tspan x="48" dy="13.3">些问题，这就需要我们不断的去学习，学习行</tspan><tspan x="48" dy="13.3">业知识和产品知识，只有不断充实自己，才能</tspan><tspan x="48" dy="13.3">更好地为客户服务。市场在不断变化，而我们</tspan><tspan x="48" dy="13.3">的客户需求也在不断变化，面对这些变化，要</tspan><tspan x="48" dy="13.3">时刻保持学习的状态，不断提高自己的能力。</tspan></text></g>
<g id="n4e"><rect class="nb" x="281" y="1828.9" width="125" height="20"/><text class="t e" x="400" y="1838.9">二、脚踏实地，努力工作</text></g>
<g id="n4f"><rect class="nb" x="41" y="1770" width="220" height="139.7"/><text class="t" x="48" y="1780"><tspan x="48" dy="0">我们的工作比较繁琐，每天都有一定的任务比</tspan><tspan x="48" dy="13.3">较重，这就要求我们对每天的工作都有工作安</tspan><tspan x="48" dy="13.3">排，今日事今日毕，对于自己的工作要做到能</tspan><tspan x="48" dy="13.3">按时完成，遇到问题不逃避，不去找推卸的</tspan><tspan x="48" dy="13.3">借口。想要做好电话销售这份工作，首先要熟</tspan><tspan x="48" dy="13.3">悉产品知识，其次要有良好的心态，抗压力能</tspan><tspan x="48" dy="13.3">力要强。工作中要注意每一个细节，细节问题</tspan><tspan x="48" dy="13.3">往往决定成败。我会认真对待工作中的每一</tspan><tspan x="48" dy="13.3">个环节，认真的完成每一项工作，做到不误事</tspan><tspan x="48" dy="13.3">，不拖沓。</tspan></text></g>
<g id="n4g"><rect class="nb" x="332" y="2133.8" width="74" height="20"/><text class="t e" x="400" y="2143.8">三、存在问题</text></g>
<g id="n4h"><rect class="nb" x="92" y="1933.6" width="220" height="99.8"/><text class="t" x="99" y="1943.6"><tspan x="99" dy="0">通过这段时间的工作，我也清醒地看到自己还</tspan><tspan x="99" dy="13.3">存在着许多的不足之处：一、针对意向客户没</tspan><tspan x="99" dy="13.3">有做到及时跟进和回访，所以在以后的工作中</tspan><tspan x="99" dy="13.3">要把意向客户进行整理分类，做好标记，定期</tspan><tspan x="99" dy="13.3">进行回访，提高成交几率。二、由于能力有限</tspan><tspan x="99" dy="13.3">，工作中有时处理问题不够妥当。要加强认真</tspan><tspan x="99" dy="13.3">学习，提高自己的业务能力。</tspan></text></g>
<g id="n4i"><rect class="nb" x="92" y="2059" width="220" height="46.6"/><text class="t" x="99" y="2069"><tspan x="99" dy="0">销售是一门学问，需要去努力学习和不断摸索</tspan><tspan x="99" dy="13.3">，相信没有做不好的工作，只要用心努力去做</tspan><tspan x="99" dy="13.3">就一定能够做好。</tspan></text></g>
<g id="n4j"><rect class="nb" x="92" y="2130.7" width="220" height="46.6"/><text class="t" x="99" y="2140.7"><tspan x="99" dy="0">最后，我衷心的祝愿公司在新的一年里生意</tspan><tspan x="99" dy="13.3">兴隆，财源广进，也希望自己在新的一年里业</tspan><tspan x="99" dy="13.3">绩更上一层楼！</tspan></text></g>
<g id="n4k"><rect class="nb" x="266" y="2202" width="45" height="20"/><text class="t e" x="305" y="2212">敬礼!</text></g>
<g id="n4l"><rect class="nb" x="240" y="2248" width="71" height="20"/><text class="t e" x="305" y="2258">述职人：xx</text></g>
<g id="n4m"><rect class="nb" x="230" y="2293.5" width="81" height="20"/><text class="t e" x="305" y="2303.5">20xx年月xx日</text></g>
<g id="n6a"><rect class="nb" x="576" y="2338.6" width="64" height="20"/><text class="t e" x="634" y="2348.6">尊敬的**：</text></g>
<g id="n6b"><rect class="nb" x="509" y="2338.6" width="43" height="20"/><text class="t e" x="546" y="2348.6">您好！</text></g>
<g id="n6c"><rect class="nb" x="427" y="2619.3" width="220" height="46.6"/><text class="t" x="434" y="2629.3"><tspan x="434" dy="0">经过慎重考虑，我决定向公司提出辞职报告，</tspan><tspan x="434" dy="13.3">并对此造成的不便表示遗憾！为了对总多年来</tspan><tspan x="434" dy="13.3">给予的重用和信赖表示感谢，我郑重承诺：</tspan></text></g>
<g id="n6d"><rect class="nb" x="189" y="2384.5" width="217" height="33.3"/><text class="t" x="196" y="2394.5"><tspan x="196" dy="0">1 我的离职及其相关程序完全服从公司的决定</tspan><tspan x="196" dy="13.3">，该如何办理只需知会我一下就可以了。</tspan></text></g>
<g id="n6e"><rect class="nb" x="189" y="2443.8" width="217" height="33.3"/><text class="t" x="196" y="2453.8"><tspan x="196" dy="0">2 在没有离职离岗之前，尽自己最大的能力做</tspan><tspan x="196" dy="13.3">好本职工作和总交代的其他工作</tspan></text></g>
<g id="n6f"><rect class="nb" x="189" y="2502.7" width="217" height="33.3"/><text class="t" x="196" y="2512.7"><tspan x="196" dy="0">3 在离职离岗之前，不在别的公司就职；在工</tspan><tspan x="196" dy="13.3">作时间之内，不做私活</tspan></text></g>
<g id="n6g"><rect class="nb" x="263" y="2560.4" width="143" height="20"/><text class="t e" x="399" y="2570.4">4 严格遵守公司相关的规定</text></g>
<g id="n6h"><rect class="nb" x="189" y="2605.5" width="217" height="73.2"/><text class="t" x="196" y="2615.5"><tspan x="196" dy="0">在x公司xx年多时间，对于总给给予的`兄弟般</tspan><tspan x="196" dy="13.3">的关照心存感激，我本人也确实对这份工作及</tspan><tspan x="196" dy="13.3">这份知遇之恩付诸愚忠，在选择离开的时候，</tspan><tspan x="196" dy="13.3">我问心无愧，我更敢肯定的说，对于在xx公</tspan><tspan x="196" dy="13.3">司的工作，我做到了兢兢业业，恪尽职守。</tspan></text></g>
<g id="n6i"><rect class="nb" x="189" y="2704.3" width="217" height="86.5"/><text class="t" x="196" y="2714.3"><tspan x="196" dy="0">提出离职是因为我觉得自己能力有限、精力不</tspan><tspan x="196" dy="13.3">足，无法再为公司创造出更高的效益了；还有</tspan><tspan x="196" dy="13.3">就是个人心情纠结，情绪抑郁，想换一个环境</tspan><tspan x="196" dy="13.3">做些自己想做的事情。或许我的离开也是公司</tspan><tspan x="196" dy="13.3">计划之中的事，理由都不重要，但我有必要说</tspan><tspan x="196" dy="13.3">出实际情况！</tspan></text></g>
<g id="n6j"><rect class="nb" x="189" y="2816.2" width="217" height="33.3"/><text class="t" x="196" y="2826.2"><tspan x="196" dy="0">最后祝愿公司健康成长，事业蒸蒸日上！也祝</tspan><tspan x="196" dy="13.3">愿总健康快乐，**幸福，万事如意！！</tspan></text></g>
<g id="n6k"><rect class="nb" x="360" y="2874.8" width="46" height="20"/><text class="t e" x="399" y="2884.8">敬礼！</text></g>
<g id="n6l"><rect class="nb" x="566" y="2920.2" width="74" height="20"/><text class="t e" x="632" y="2930.2">辞职申请人：</text></g>
<g id="n6m"><rect class="nb" x="465" y="2920.2" width="84" height="20"/><text class="t e" x="542" y="2930.2">20xx年12月8日</text></g>
<g id="n8a"><rect class="nb" x="554" y="3181" width="86" height="20"/><text class="t e" x="633" y="3191">尊敬的xx经理：</text></g>
<g id="n8b"><rect class="nb" x="499" y="2965" width="42" height="20"/><text class="t e" x="535" y="2975">您好!</text></g>
<g id="n8c"><rect class="nb" x="322" y="3011" width="220" height="46.6"/><text class="t" x="329" y="3021"><tspan x="329" dy="0">自xx年入职以来，我一直都很享受这份销售</tspan><tspan x="329" dy="13.3">工作，感谢各位**的信任、栽培及包容，也</tspan><tspan x="329" dy="13.3">感谢各位同事给予的友善、帮助和关心。</tspan></text></g>
<g id="n8d"><rect class="nb" x="322" y="3083.3" width="220" height="86.5"/><text class="t" x="329" y="3093.3"><tspan x="329" dy="0">在过去的近两年的时间里，利用公司给予良好</tspan><tspan x="329" dy="13.3">学习时间，学习了一些新的东**充实了自己</tspan><tspan x="329" dy="13.3">，并增加自己的`一些知识和实践经验。我对</tspan><tspan x="329" dy="13.3">于公司的照顾表示真心的感谢!当然，我也自</tspan><tspan x="329" dy="13.3">认为自己在这半年的工作中做出了自己的最大</tspan><tspan x="329" dy="13.3">努力。</tspan></text></g>
<g id="n8e"><rect class="nb" x="322" y="3195" width="220" height="86.5"/><text class="t" x="329" y="3205"><tspan x="329" dy="0">但因为某些个人的理由，我最终选择了向公司</tspan><tspan x="329" dy="13.3">提出辞职申请，并希望能于今年xx月正式离</tspan><tspan x="329" dy="13.3">职。希望**能早日找到合适的人手接替我的</tspan><tspan x="329" dy="13.3">工作，我会尽力配合做好交接工作，保证业务</tspan><tspan x="329" dy="13.3">的正常运作，对公司，对客户尽好最后的责任</tspan><tspan x="329" dy="13.3">。</tspan></text></g>
<g id="n8f"><rect class="nb" x="329" y="3306" width="212" height="20"/><text class="t e" x="535" y="3316">希望公司对我的申请予以考虑并批准为盼。</text></g>
<g id="n8g"><rect class="nb" x="464" y="3351.7" width="77" height="20"/><text class="t e" x="535" y="3361.7">辞职人：xxx</text></g>
<g id="n8h"><rect class="nb" x="420" y="3396.7" width="121" height="20"/><text class="t e" x="535" y="3406.7">日期：xx年xx月xx日</text></g>
</g>
</g>
</svg>
